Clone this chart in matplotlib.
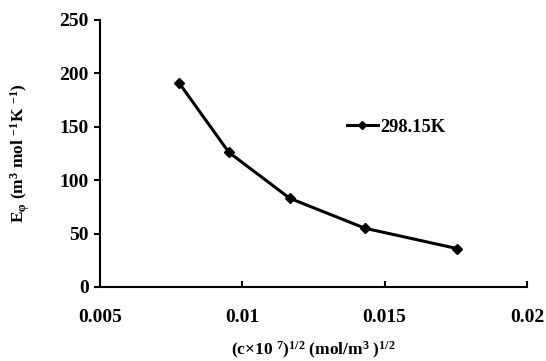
import numpy as np
import matplotlib
matplotlib.use('Agg')
import matplotlib.pyplot as plt

plt.rcParams['font.family'] = 'Liberation Serif'
plt.rcParams['font.weight'] = 'bold'
plt.rcParams['mathtext.fontset'] = 'custom'
plt.rcParams['mathtext.rm'] = 'Liberation Serif:bold'
plt.rcParams['mathtext.it'] = 'Liberation Serif:bold'
plt.rcParams['mathtext.bf'] = 'Liberation Serif:bold'

# data
conc = [0.00778, 0.00953, 0.01167, 0.01431, 0.01754]
e_phi = [191, 126, 83, 55, 36]
series_label = '298.15K'
xticks = [0.005, 0.01, 0.015, 0.02]
xticklabels = ['0.005', '0.01', '0.015', '0.02']
yticks = [0, 50, 100, 150, 200, 250]

fig = plt.figure(figsize=(5.46, 3.61), dpi=100)
ax = fig.add_axes([0.183, 0.205, 0.782, 0.74])

ax.plot(conc, e_phi, color='black', lw=2.2, marker='D', ms=5.5, label=series_label)

ax.set_xlim(0.005, 0.02)
ax.set_ylim(0, 250)
ax.set_xticks(xticks)
ax.set_xticklabels(xticklabels)
ax.set_yticks(yticks)

for s in ['top', 'right']:
    ax.spines[s].set_visible(False)
for s in ['left', 'bottom']:
    ax.spines[s].set_linewidth(1.5)

ax.tick_params(axis='y', direction='out', length=4, width=1.5, labelsize=14, pad=4)
ax.tick_params(axis='x', direction='in', length=4, width=1.5, labelsize=14, pad=16)

ax.set_xlabel(r'(c$\times$10 $^{7}$)$^{1/2}$ (mol/m$^{3}$ )$^{1/2}$',
              fontsize=12.5, fontweight='bold', labelpad=10)
ax.set_ylabel(r'E$_{\varphi}$ (m$^{3}$ mol $^{-1}$K $^{-1}$)',
              fontsize=12.5, fontweight='bold', labelpad=20)

leg = ax.legend(loc='upper left', bbox_to_anchor=(0.556, 0.665), frameon=False,
                prop={'size': 13.3, 'weight': 'bold'}, handlelength=1.7,
                handletextpad=0.1, borderpad=0, markerscale=0.8)

fig.savefig('out.png', dpi=100)
